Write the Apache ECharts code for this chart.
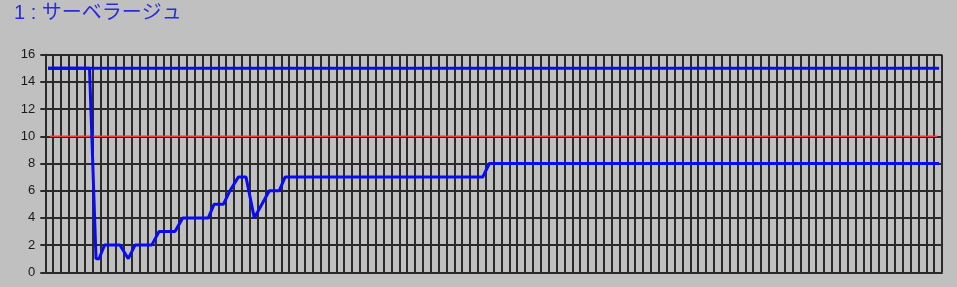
<!DOCTYPE html>
<html>
<head>
<meta charset="utf-8">
<script src="https://cdn.jsdelivr.net/npm/echarts@6/dist/echarts.min.js"></script>
<style>
html,body{margin:0;padding:0;background:#c0c0c0;}
#c{width:957px;height:287px;}
</style>
</head>
<body>
<div id="c"></div>
<script>
const titleText = "1 : サーベラージュ";
const yTicks = [0, 2, 4, 6, 8, 10, 12, 14, 16];
// sample positions (x) and measured values (y)
const sampleX = [0.35, 5.62, 6.45, 6.83, 7.53, 9.50, 10.55, 11.41, 13.53, 14.46, 16.49, 17.47, 20.72, 21.45, 22.63, 23.48, 24.54, 25.52, 26.57, 28.48, 29.75, 30.48, 55.61, 56.45, 113.63];
const sampleY = [15, 15, 1, 1, 2, 2, 1, 2, 2, 3, 3, 4, 4, 5, 5, 6, 7, 7, 4, 6, 6, 7, 7, 8, 8];
const upperX = [0.35, 113.63];
const upperY = [15, 15];
const refX = [0.6, 113.4];
const refY = [10, 10];

const zip = (xs, ys) => xs.map((x, i) => [x, ys[i]]);

const chart = echarts.init(document.getElementById('c'), null, {renderer: 'canvas'});
chart.setOption({
  backgroundColor: '#c0c0c0',
  animation: false,
  title: {
    text: titleText,
    left: 14, top: 3, padding: 0,
    textStyle: {color: '#2b2bd9', fontSize: 20, fontWeight: 'normal', fontFamily: '"Liberation Sans", "Noto Sans CJK JP"'}
  },
  grid: {left: 45.3, right: 15, top: 54.7, bottom: 14.7},
  xAxis: {
    type: 'value', min: 0, max: 114, interval: 1,
    axisLabel: {show: false}, axisTick: {show: false},
    axisLine: {show: true, lineStyle: {color: '#2a2a2a', width: 2}},
    splitLine: {show: true, lineStyle: {color: '#2a2a2a', width: 2}}
  },
  yAxis: {
    type: 'value', min: yTicks[0], max: yTicks[yTicks.length - 1], interval: 2,
    axisLine: {show: true, onZero: false, lineStyle: {color: '#2a2a2a', width: 2}},
    axisTick: {show: true, length: 5, lineStyle: {color: '#2a2a2a', width: 2}},
    axisLabel: {color: '#1a1a1a', fontSize: 13, fontFamily: 'Liberation Sans', margin: 10},
    splitLine: {show: true, lineStyle: {color: '#2a2a2a', width: 2}}
  },
  series: [
    {type: 'line', data: zip(refX, refY), symbol: 'none', lineStyle: {color: '#f03a3a', width: 1.4}, z: 2},
    {type: 'line', data: zip(upperX, upperY), symbol: 'none', lineStyle: {color: '#0a0af5', width: 3}, z: 3},
    {type: 'line', data: zip(sampleX, sampleY), symbol: 'none', lineStyle: {color: '#0a0af5', width: 3}, z: 4}
  ]
});
</script>
</body>
</html>
